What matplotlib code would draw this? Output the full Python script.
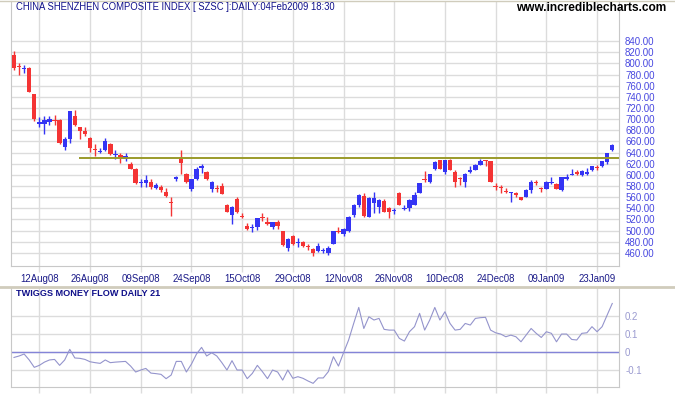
import numpy as np
import pandas as pd
import matplotlib
matplotlib.use('Agg')
import matplotlib.pyplot as plt
from matplotlib.lines import Line2D

plt.rcParams['font.family'] = ['Liberation Sans', 'DejaVu Sans']

# trading days (Shenzhen exchange, holidays removed)
holidays = ['2008-09-15', '2008-09-29', '2008-09-30', '2008-10-01', '2008-10-02', '2008-10-03',
            '2009-01-01', '2009-01-02', '2009-01-26', '2009-01-27', '2009-01-28', '2009-01-29', '2009-01-30']
dates = pd.bdate_range('2008-08-05', '2009-02-04')
dates = dates[~dates.isin(pd.to_datetime(holidays))]

opens = [815, 795, 790, 791, 745, 691, 692, 695, 699, 699, 650, 664, 705, 685, 678, 667, 646, 641, 645, 656,
         635, 636, 629, 620, 611, 586, 585, 588, 576, 579, 570, 552, 593, 632, 602, 574, 592, 613, 606, 574,
         575, 580, 546, 528, 557, 526, 508, 505, 506, 523, 516, 507, 516, 499, 468, 490, 478, 480, 471, 467,
         463, 463, 459, 476, 499, 493, 500, 528, 546, 562, 525, 549, 543, 553, 540, 535, 568, 539, 540, 546,
         568, 592, 587, 611, 626, 606, 626, 606, 593, 588, 605, 609, 618, 625, 624, 580, 577, 571, 567, 567,
         560, 561, 572, 587, 575, 575, 586, 584, 572, 592, 600, 606, 600, 601, 609, 614, 616, 623, 645]
highs = [822, 800, 797, 793, 745, 704, 705, 705, 707, 700, 668, 714, 716, 686, 685, 668, 656, 648, 667, 657,
         644, 639, 639, 623, 612, 593, 599, 592, 586, 581, 577, 560, 598, 644, 603, 593, 614, 619, 607, 589,
         582, 585, 547, 544, 561, 531, 513, 511, 523, 531, 524, 516, 519, 500, 486, 492, 486, 481, 475, 468,
         477, 468, 473, 500, 506, 504, 527, 547, 565, 567, 561, 570, 556, 557, 542, 540, 570, 546, 556, 570,
         586, 607, 602, 624, 627, 627, 629, 608, 597, 603, 615, 619, 629, 627, 625, 585, 582, 576, 570, 570,
         561, 574, 590, 591, 579, 589, 597, 585, 597, 601, 611, 609, 608, 612, 616, 618, 625, 640, 655]
lows = [789, 779, 783, 748, 696, 686, 674, 690, 690, 655, 644, 657, 688, 664, 669, 641, 633, 639, 643, 635,
        629, 622, 625, 610, 583, 579, 578, 575, 575, 569, 561, 526, 589, 601, 586, 571, 591, 604, 591, 569,
        569, 565, 533, 511, 532, 522, 501, 498, 501, 518, 510, 503, 503, 473, 464, 474, 471, 471, 466, 455,
        462, 460, 456, 475, 495, 491, 498, 525, 543, 525, 524, 531, 531, 533, 523, 529, 545, 537, 535, 545,
        567, 587, 585, 608, 610, 601, 608, 579, 581, 579, 603, 608, 617, 615, 587, 573, 567, 567, 552, 561,
        554, 560, 568, 582, 570, 574, 583, 574, 571, 591, 599, 600, 598, 599, 607, 609, 614, 620, 642]
closes = [791, 793, 792, 749, 700, 694, 698, 700, 697, 657, 665, 714, 690, 678, 674, 648, 644, 643, 660, 638,
          637, 631, 634, 611, 585, 588, 591, 578, 581, 572, 562, 550, 597, 621, 587, 592, 610, 615, 592, 588,
          574, 566, 534, 543, 533, 525, 502, 507, 522, 522, 512, 515, 509, 474, 485, 475, 480, 472, 470, 460,
          472, 465, 469, 499, 498, 503, 525, 546, 564, 527, 558, 559, 554, 534, 534, 537, 546, 541, 555, 564,
          586, 591, 601, 623, 611, 626, 609, 587, 592, 602, 609, 618, 624, 624, 588, 579, 576, 570, 569, 563,
          555, 573, 588, 586, 574, 588, 588, 575, 596, 597, 602, 602, 607, 606, 615, 613, 624, 639, 654]
money_flow = [-0.030, -0.022, -0.011, -0.044, -0.085, -0.074, -0.056, -0.044, -0.041, -0.074,
              -0.044, 0.015, -0.033, -0.035, -0.041, -0.054, -0.059, -0.063, -0.044, -0.059,
              -0.056, -0.054, -0.052, -0.078, -0.111, -0.100, -0.091, -0.117, -0.120, -0.124,
              -0.148, -0.128, -0.052, -0.052, -0.111, -0.067, -0.011, 0.026, -0.022, -0.004,
              -0.022, -0.059, -0.100, -0.048, -0.100, -0.100, -0.148, -0.119, -0.074, -0.109,
              -0.148, -0.100, -0.111, -0.156, -0.100, -0.146, -0.137, -0.146, -0.161, -0.174,
              -0.144, -0.144, -0.109, -0.026, -0.078, -0.004, 0.067, 0.159, 0.248, 0.131,
              0.196, 0.178, 0.187, 0.126, 0.122, 0.122, 0.076, 0.061, 0.113, 0.141,
              0.215, 0.122, 0.178, 0.248, 0.178, 0.224, 0.159, 0.122, 0.126, 0.159,
              0.150, 0.187, 0.191, 0.193, 0.122, 0.107, 0.100, 0.085, 0.094, 0.085,
              0.057, 0.094, 0.131, 0.104, 0.081, 0.113, 0.104, 0.057, 0.100, 0.100,
              0.070, 0.067, 0.104, 0.107, 0.141, 0.113, 0.141, 0.206, 0.270]

tick_dates = ['2008-08-12', '2008-08-26', '2008-09-09', '2008-09-24', '2008-10-15', '2008-10-29',
              '2008-11-12', '2008-11-26', '2008-12-10', '2008-12-24', '2009-01-09', '2009-01-23']
price_ticks = list(range(460, 841, 20))
mf_ticks = [-0.1, 0, 0.1, 0.2]
mf_labels = ['-0.1', '0', '0.1', '0.2']
resistance = 630
resistance_start = '2008-08-22'

UP = '#3434f4'
DOWN = '#f43434'
GRID = '#dcdcdc'

o = np.array(opens, float)
h = np.array(highs, float)
l = np.array(lows, float)
c = np.array(closes, float)
x = np.arange(len(dates))
tick_pos = [dates.get_loc(pd.Timestamp(d)) for d in tick_dates]
tick_lab = [pd.Timestamp(d).strftime('%d%b%y') for d in tick_dates]
xlim = (-0.59, 119.33)

fig = plt.figure(figsize=(6.75, 3.95), dpi=100, facecolor='white')
ax = fig.add_axes([11/675, 1-266/395, 608/675, 265/395])
ax2 = fig.add_axes([11/675, 1-387.3/395, 608/675, 99.3/395])

# ---------------- price panel ----------------
colors = np.where(c >= o, UP, DOWN)
ax.vlines(x, l, h, colors=colors, lw=1.0, zorder=3)
body_low = np.minimum(o, c)
body_h = np.maximum(np.abs(c - o), 1.8)
ax.bar(x, body_h, bottom=body_low, width=0.86, color=colors, linewidth=0, zorder=3)

start = dates.get_loc(pd.Timestamp(resistance_start)) - 0.25
ax.hlines(resistance, start, xlim[1], colors='#9a9a2a', lw=1.4, zorder=4)

ax.set_xlim(*xlim)
ax.set_ylim(436.4, 912)
ax.set_yticks(price_ticks)
ax.set_yticklabels([f'{v:.2f}' for v in price_ticks])
ax.yaxis.tick_right()
ax.set_xticks(tick_pos)
ax.set_xticklabels(tick_lab)
ax.tick_params(axis='y', length=0, pad=4.4, labelsize=7.0, labelcolor='#4848e0')
ax.tick_params(axis='x', length=4, width=1, color=GRID, pad=2, labelsize=6.9, labelcolor='#1a1a88')
ax.grid(True, color=GRID, lw=1)
ax.set_axisbelow(True)
ax.spines['top'].set_visible(False)
for s in ['left', 'right', 'bottom']:
    ax.spines[s].set_color('#c8c8c8')

# ---------------- money flow panel ----------------
ax2.plot(x, money_flow, color='#9494cc', lw=0.8, zorder=3)
ax2.axhline(0, color='#8484d8', lw=1, zorder=2)
ax2.set_xlim(*xlim)
ax2.set_ylim(-0.196, 0.356)
ax2.set_yticks(mf_ticks)
ax2.set_yticklabels(mf_labels)
ax2.yaxis.tick_right()
ax2.set_xticks(tick_pos)
ax2.set_xticklabels([])
ax2.tick_params(axis='y', length=0, pad=4.4, labelsize=7.0, labelcolor='#9a9ad0')
ax2.tick_params(axis='x', length=4, width=1, color=GRID)
ax2.grid(True, color=GRID, lw=1)
ax2.set_axisbelow(True)
ax2.spines['top'].set_visible(False)
for s in ['left', 'right', 'bottom']:
    ax2.spines[s].set_color('#c8c8c8')

# ---------------- texts and frame ----------------
fig.text(16/675, 1-7.5/395, 'CHINA SHENZHEN COMPOSITE INDEX [ SZSC ]:DAILY:04Feb2009 18:30',
         color='#10108a', fontsize=6.85, va='center', ha='left')
fig.text(666/675, 1-8/395, 'www.incrediblecharts.com', color='black', fontsize=8.6,
         fontweight='bold', va='center', ha='right')
fig.text(16/675, 1-294/395, 'TWIGGS MONEY FLOW DAILY 21', color='#10108a', fontsize=6.6,
         fontweight='bold', va='center', ha='left')
fig.add_artist(Line2D([0, 1], [1-286.5/395]*2, color='#d0ccbc', lw=2))
fig.add_artist(Line2D([0, 1], [1-0.5/395]*2, color='#d0ccbc', lw=1))

fig.savefig('out.png', dpi=100, facecolor='white')
